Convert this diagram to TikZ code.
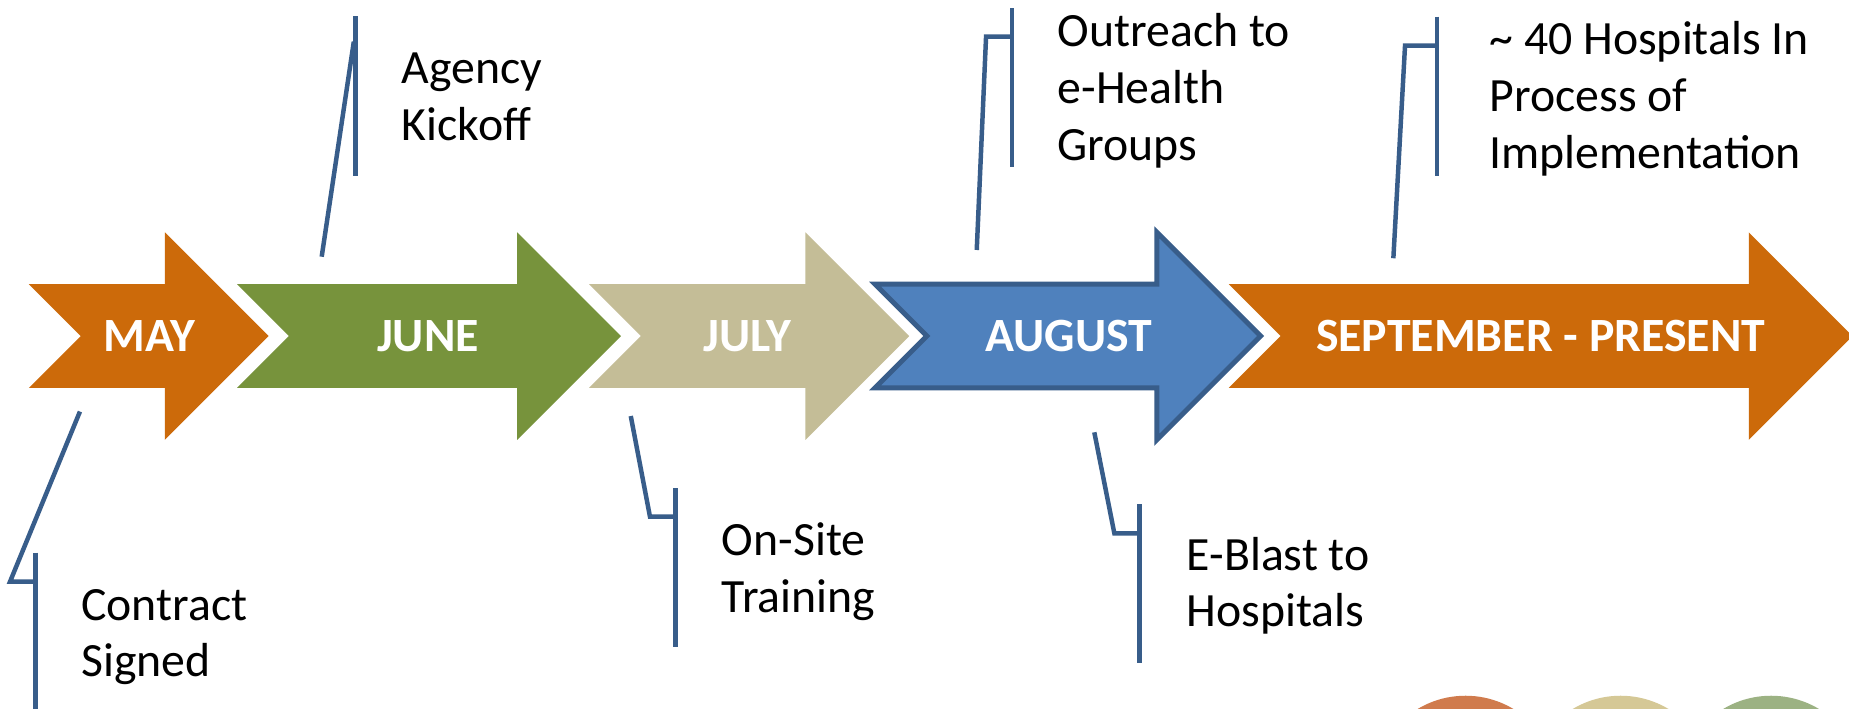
\documentclass[tikz,border=0pt]{standalone}
\usepackage{fontspec}
\setmainfont{Carlito}
\definecolor{orng}{HTML}{CC6A0A}
\definecolor{grn}{HTML}{77933C}
\definecolor{tanc}{HTML}{C4BD97}
\definecolor{blu}{HTML}{4F81BD}
\definecolor{bluline}{HTML}{385D8A}
\definecolor{cirA}{HTML}{D07B4D}
\definecolor{cirB}{HTML}{D5C896}
\definecolor{cirC}{HTML}{9CB283}
\newcommand\tlArrow[3]{\path[#1] (#2,241) -- (#3,241) -- (#3,197) -- ({#3+88},285) -- (#3,373) -- (#3,329) -- (#2,329) -- ({#2+44},285) -- cycle;}
\newcommand\evtxt[1]{\begin{tabular}[t]{@{}l@{}}#1\end{tabular}}
\begin{document}
\begin{tikzpicture}[x=1pt,y=-1pt,
  callout/.style={draw=bluline, line width=3.8pt},
  monthlbl/.style={anchor=base, text=white, font=\fontsize{40.5}{48.3}\selectfont\bfseries, inner sep=0pt},
  eventlbl/.style={anchor=base west, text=black, font=\fontsize{40.5}{48.3}\selectfont, inner sep=0pt}]
\useasboundingbox (0,0) rectangle (1568,601);
\fill[white] (0,0) rectangle (1568,601);
% decorative circles
\fill[cirA] (1242.8,669) circle (79pt);
\fill[cirB] (1374.3,669) circle (79pt);
\fill[cirC] (1501.9,669) circle (79pt);
% arrows
\tlArrow{fill=orng}{24.5}{139.8}
\tlArrow{fill=grn}{201}{438.6}
\tlArrow{fill=tanc}{499.5}{683}
\tlArrow{fill=blu, draw=bluline, line width=4.2pt, miter limit=10}{742}{981}
\tlArrow{fill=orng}{1042}{1483}
% month labels
\node[monthlbl] (may) at (127,298) {MAY};
\node[monthlbl] (june) at (363,298) {JUNE};
\node[monthlbl] (july) at (634,298) {JULY};
\node[monthlbl] (aug) at (906.5,298) {AUGUST};
\node[monthlbl] (sep) at (1306.5,298) {SEPTEMBER - PRESENT};
% callout coordinates
\coordinate (c1a) at (67.8,349);   \coordinate (c1b) at (8.5,493.3);  \coordinate (c1c) at (30.3,493.3);
\coordinate (c1t) at (30.3,468.7); \coordinate (c1d) at (30.3,606);
\coordinate (c2a) at (272.8,217.7); \coordinate (c2b) at (299.8,37); \coordinate (c2c) at (301.6,37);
\coordinate (c2t) at (301.6,13.6); \coordinate (c2d) at (301.6,149);
\coordinate (c3a) at (534.9,352.8); \coordinate (c3b) at (551.2,438.2); \coordinate (c3c) at (573,438.2);
\coordinate (c3t) at (573,414); \coordinate (c3d) at (573,549);
\coordinate (c4a) at (828.3,212); \coordinate (c4b) at (836.2,31.1); \coordinate (c4c) at (858,31.1);
\coordinate (c4t) at (858,7); \coordinate (c4d) at (858,141.9);
\coordinate (c5a) at (928,366.6); \coordinate (c5b) at (945,452.3); \coordinate (c5c) at (966.2,452.3);
\coordinate (c5t) at (966.2,427.7); \coordinate (c5d) at (966.2,562.5);
\coordinate (c6a) at (1181.6,219); \coordinate (c6b) at (1191.5,38.7); \coordinate (c6c) at (1218.4,38.7);
\coordinate (c6t) at (1218.4,14.1); \coordinate (c6d) at (1218.4,149);
% callout lines
\foreach \k in {1,...,6}{
  \draw[callout] (c\k a) -- (c\k b) -- (c\k c);
  \draw[callout] (c\k t) -- (c\k d);
}
% event labels
\node[eventlbl] (contract) at (68.7,525.8) {\evtxt{Contract\\Signed}};
\node[eventlbl] (agency) at (340.6,70.7) {\evtxt{Agency\\Kickoff}};
\node[eventlbl] (onsite) at (612,470.7) {\evtxt{On-Site\\Training}};
\node[eventlbl] (outreach) at (896.7,39.6) {\evtxt{Outreach to\\e-Health\\Groups}};
\node[eventlbl] (eblast) at (1006.3,483.4) {\evtxt{E-Blast to\\Hospitals}};
\node[eventlbl] (hosp) at (1263,46.6) {\evtxt{\textasciitilde{} 40 Hospitals In\\Process of\\Implementation}};
\end{tikzpicture}
\end{document}
